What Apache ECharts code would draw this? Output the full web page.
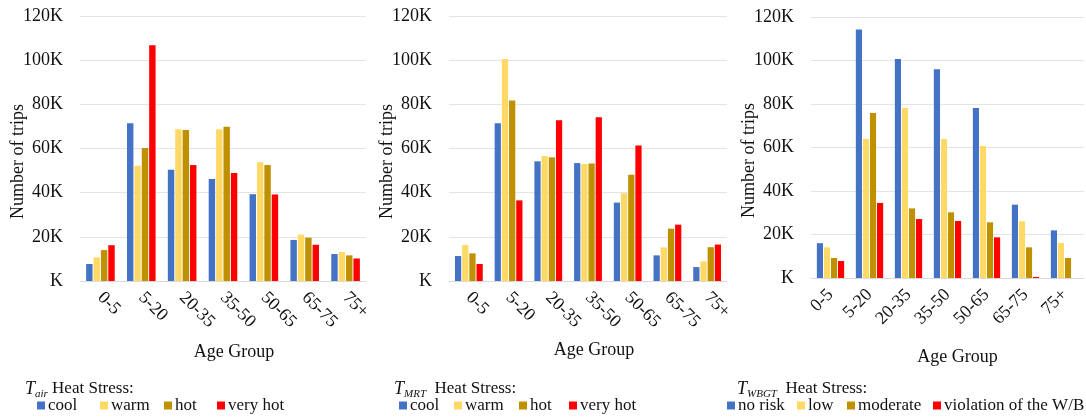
<!DOCTYPE html>
<html>
<head>
<meta charset="utf-8">
<title>Trips by age group and heat stress</title>
<script src="https://cdn.jsdelivr.net/npm/echarts@6/dist/echarts.min.js"></script>
<style>
    html, body { margin: 0; padding: 0; background: #fff; }
    #main { width: 1086px; height: 417px; }
</style>
</head>
<body>
<div id="main"></div>
<script>
// age groups on the x axis
var ageGroups = ['0-5', '5-20', '20-35', '35-50', '50-65', '65-75', '75+'];

// T_air heat stress (number of trips)
var airCool = [7700, 71400, 50400, 46200, 39300, 18600, 12200];
var airWarm = [10700, 52200, 68700, 68700, 53800, 21000, 13100];
var airHot = [14000, 60200, 68400, 69900, 52500, 19600, 11600];
var airVeryHot = [16200, 106700, 52500, 48900, 39200, 16400, 10200];

// T_MRT heat stress
var mrtCool = [11300, 71400, 54200, 53400, 35500, 11600, 6300];
var mrtWarm = [16300, 100500, 56600, 53000, 39700, 15200, 8900];
var mrtHot = [12500, 81700, 56000, 53200, 48100, 23700, 15300];
var mrtVeryHot = [7700, 36500, 72800, 74100, 61400, 25500, 16500];

// T_WBGT heat stress
var wbgtNoRisk = [16000, 114300, 100700, 96000, 78200, 33700, 21900];
var wbgtLow = [14100, 63900, 78200, 63900, 60700, 26100, 16100];
var wbgtModerate = [9200, 75900, 32000, 30200, 25600, 14100, 9200];
var wbgtViolation = [7800, 34500, 27100, 26200, 18700, 500, 0];

var yTicks = [0, 20000, 40000, 60000, 80000, 100000, 120000];

var colors = ['#4472C4', '#FFD966', '#BF9000', '#FF0000'];
var fontFamily = '"Liberation Serif", "Times New Roman", serif';

(function () {
    var chart = echarts.init(document.getElementById('main'));

    var grids = [
        {left: 80, right: 720, top: 16, bottom: 136},
        {left: 449, right: 359, top: 16, bottom: 136},
        {left: 811, right: 2, top: 17, bottom: 139}
    ];

    function xAxis(idx, rotate, nameShift, nameGap) {
        return {
            type: 'category',
            gridIndex: idx,
            data: ageGroups,
            axisTick: {show: false},
            axisLine: {lineStyle: {color: '#d9d9d9', width: 1}},
            axisLabel: {
                rotate: rotate,
                margin: 14,
                interval: 0,
                color: '#111',
                fontFamily: fontFamily,
                fontSize: 18
            },
            name: 'Age Group',
            nameLocation: 'middle',
            nameGap: nameGap,
            nameTextStyle: {
                color: '#111',
                fontFamily: fontFamily,
                fontSize: 18,
                padding: [0, 0, 0, nameShift]
            }
        };
    }

    function yAxis(idx) {
        return {
            type: 'value',
            gridIndex: idx,
            min: yTicks[0],
            max: yTicks[yTicks.length - 1],
            interval: yTicks[1] - yTicks[0],
            axisLine: {show: false},
            axisTick: {show: false},
            splitLine: {lineStyle: {color: '#e4e4e4'}},
            axisLabel: {
                margin: 17,
                color: '#111',
                fontFamily: fontFamily,
                fontSize: 18,
                formatter: function (v) {
                    return (v === 0 ? '' : v / 1000) + 'K';
                }
            },
            name: 'Number of trips',
            nameLocation: 'middle',
            nameGap: 53,
            nameMoveOverlap: false,
            nameTextStyle: {
                color: '#111',
                fontFamily: fontFamily,
                fontSize: 18,
                padding: [0, 26, 0, 0]
            }
        };
    }

    function bar(name, idx, data, c) {
        return {
            name: name,
            type: 'bar',
            xAxisIndex: idx,
            yAxisIndex: idx,
            data: data,
            barGap: '15%',
            barCategoryGap: '30%',
            itemStyle: {color: colors[c]},
            animation: false
        };
    }

    // one legend per item so each sits where the original puts it
    function legendItem(left, name) {
        return {
            left: left,
            top: 397,
            icon: 'rect',
            itemWidth: 8,
            itemHeight: 8,
            padding: 0,
            data: [name],
            textStyle: {
                color: '#111',
                fontFamily: fontFamily,
                fontSize: 17,
                padding: [0, 0, 0, -2]
            }
        };
    }

    var richTitle = {
        t: {fontFamily: fontFamily, fontSize: 18, fontStyle: 'italic', fontWeight: 'normal', color: '#111', lineHeight: 22, verticalAlign: 'middle'},
        s: {fontFamily: fontFamily, fontSize: 11, fontStyle: 'italic', fontWeight: 'normal', color: '#111', lineHeight: 11, verticalAlign: 'bottom'},
        n: {fontFamily: fontFamily, fontSize: 17, fontWeight: 'normal', color: '#111', lineHeight: 22, verticalAlign: 'middle'}
    };

    function title(left, sub, gap) {
        return {
            left: left,
            top: 378,
            padding: 0,
            text: '{t|T}{s|' + sub + '}{n|' + gap + 'Heat Stress:}',
            textStyle: {fontWeight: 'normal', rich: richTitle}
        };
    }

    var option = {
        backgroundColor: '#fff',
        title: [
            title(25, 'air', ' '),
            title(394, 'MRT', '  '),
            title(737, 'WBGT', '  ')
        ],
        legend: [
            legendItem(37, 'cool'),
            legendItem(100, 'warm'),
            legendItem(164, 'hot'),
            legendItem(217, 'very hot'),
            legendItem(399, 'cool'),
            legendItem(454, 'warm'),
            legendItem(519, 'hot'),
            legendItem(569, 'very hot'),
            legendItem(727, 'no risk'),
            legendItem(797, 'low'),
            legendItem(847, 'moderate'),
            legendItem(933, 'violation of the W/B')
        ],
        grid: grids,
        xAxis: [xAxis(0, -45, 22, 62), xAxis(1, -45, 12, 60), xAxis(2, 45, 20, 70)],
        yAxis: [yAxis(0), yAxis(1), yAxis(2)],
        series: [
            bar('cool', 0, airCool, 0),
            bar('warm', 0, airWarm, 1),
            bar('hot', 0, airHot, 2),
            bar('very hot', 0, airVeryHot, 3),
            bar('cool', 1, mrtCool, 0),
            bar('warm', 1, mrtWarm, 1),
            bar('hot', 1, mrtHot, 2),
            bar('very hot', 1, mrtVeryHot, 3),
            bar('no risk', 2, wbgtNoRisk, 0),
            bar('low', 2, wbgtLow, 1),
            bar('moderate', 2, wbgtModerate, 2),
            bar('violation of the W/B', 2, wbgtViolation, 3)
        ]
    };

    chart.setOption(option);
})();
</script>
</body>
</html>
